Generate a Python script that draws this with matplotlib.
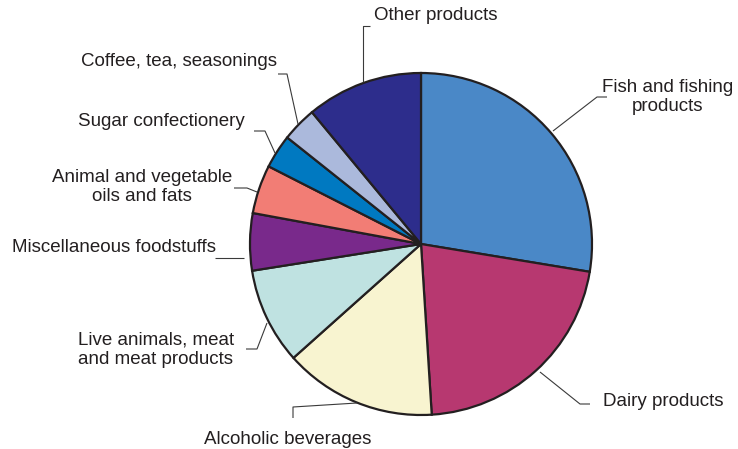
import matplotlib
matplotlib.use("Agg")
import matplotlib.pyplot as plt

# share of food exports by product group (%)
categories = ["Fish and fishing\nproducts", "Dairy products", "Alcoholic beverages",
              "Live animals, meat\nand meat products", "Miscellaneous foodstuffs",
              "Animal and vegetable\noils and fats", "Sugar confectionery",
              "Coffee, tea, seasonings", "Other products"]
shares = [27.6, 21.4, 14.4, 9.1, 5.4, 4.6, 3.2, 3.3, 11.0]
colors = ["#4a88c7", "#b73870", "#f8f4d0", "#bfe2e1", "#79298b",
          "#f27d75", "#0079c1", "#abb9dc", "#2d2d8c"]

W, H = 738, 449

# label anchor (x, y, ha) and leader polyline, in pixels from top-left
label_pos = [
    (668, 97, "center"), (603, 402, "left"), (288, 439, "center"),
    (156, 350, "center"), (216, 248, "right"), (142, 187, "center"),
    (245, 122, "right"), (277, 62, "right"), (374, 16, "left"),
]
leaders = [
    [(607, 97), (597, 97), (553, 131)],
    [(590, 404), (580, 404), (540, 372)],
    [(293, 418), (293, 407), (357, 403)],
    [(246, 349), (257, 349), (267, 323)],
    [(215, 258), (244, 258)],
    [(234, 188), (247, 188), (257, 192)],
    [(254, 131), (265, 131), (275, 153)],
    [(278, 74), (287, 74), (298, 124)],
    [(370, 26), (363, 26), (363, 82)],
]

plt.rcParams["font.family"] = ["Liberation Sans", "DejaVu Sans"]
fig = plt.figure(figsize=(W / 100, H / 100), dpi=100)
ax = fig.add_axes([0, 0, 1, 1])

ax.pie(shares, colors=colors, startangle=90, counterclock=False,
       center=(421, H - 244), radius=171, frame=True,
       wedgeprops=dict(edgecolor="#231f20", linewidth=1.6))
ax.set_xlim(0, W)
ax.set_ylim(0, H)
ax.set_aspect("equal")
ax.axis("off")

for pts in leaders:
    xs = [p[0] for p in pts]
    ys = [H - p[1] for p in pts]
    ax.plot(xs, ys, color="#3a3a3a", linewidth=0.8, solid_capstyle="butt")

for name, (x, y, ha) in zip(categories, label_pos):
    ax.text(x, H - y, name, ha=ha, va="center", multialignment="center",
            fontsize=13.5, color="#231f20")

fig.savefig("out.png", dpi=100)
